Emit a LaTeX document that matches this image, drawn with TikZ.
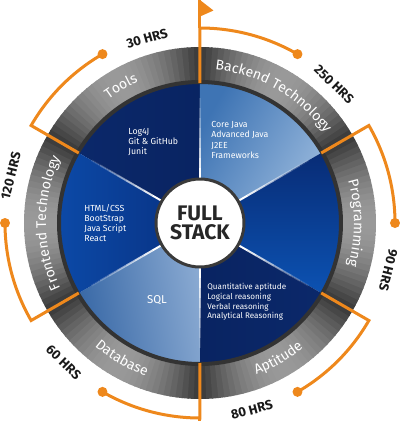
\documentclass[tikz,border=0pt]{standalone}
\usepackage{fontspec}
\setmainfont{Fira Sans}
\newfontfamily\ringfont{Fira Sans}
\usetikzlibrary{decorations.text}
\definecolor{hrsorange}{RGB}{238,136,28}
\definecolor{navyA}{RGB}{11,40,106}
\definecolor{navyB}{RGB}{9,36,98}
\definecolor{steelA}{RGB}{62,116,180}
\definecolor{steelB}{RGB}{152,184,220}
\definecolor{royalA}{RGB}{12,82,178}
\definecolor{royalB}{RGB}{8,44,118}
\definecolor{dbA}{RGB}{56,104,166}
\definecolor{dbB}{RGB}{138,170,210}
\definecolor{frontA}{RGB}{12,74,168}
\definecolor{frontB}{RGB}{8,48,128}
\definecolor{hubline}{RGB}{58,58,58}
\newcommand\rIn{2.8}
\newcommand\rOut{3.52}
\newcommand\rBr{3.9}
\begin{document}
\begin{tikzpicture}[
    sectortext/.style={text=white, font=\fontsize{5}{5.8}\selectfont, align=left, inner sep=0pt},
    hrs/.style={text=black!90, font=\fontsize{7.5}{7.5}\selectfont\bfseries, inner sep=0pt},
    bracket/.style={hrsorange, line width=0.06cm},
    ringlabel/.style={decorate, decoration={text along path, text align=center, text color=white, text={|\ringfont\fontsize{8}{8}\selectfont|#1}}}
]
    \useasboundingbox (-4,-3.96) rectangle (4,4.46);
    \shade[left color=navyA, right color=navyB] (0,0) -- (90:\rIn) arc[start angle=90, end angle=150, radius=\rIn] -- cycle;
    \shade[left color=steelA, right color=steelB, shading angle=60] (0,0) -- (30:\rIn) arc[start angle=30, end angle=90, radius=\rIn] -- cycle;
    \shade[top color=royalB, bottom color=royalA] (0,0) -- (-30:\rIn) arc[start angle=-30, end angle=30, radius=\rIn] -- cycle;
    \shade[left color=navyB, right color=navyA] (0,0) -- (270:\rIn) arc[start angle=270, end angle=330, radius=\rIn] -- cycle;
    \shade[left color=dbA, right color=dbB, shading angle=100] (0,0) -- (210:\rIn) arc[start angle=210, end angle=270, radius=\rIn] -- cycle;
    \shade[left color=frontA, right color=frontB] (0,0) -- (150:\rIn) arc[start angle=150, end angle=210, radius=\rIn] -- cycle;
    \foreach \s in {-30,30,...,270} {
        \foreach \k in {0,...,29} {
            \pgfmathsetmacro\lev{22+38*sin(6*(\k+0.5))}
            \fill[white!\lev!black] (\s+2*\k:\rIn) arc[start angle=\s+2*\k, end angle=\s+2*\k+2.4, radius=\rIn]
                -- (\s+2*\k+2.4:\rOut) arc[start angle=\s+2*\k+2.4, end angle=\s+2*\k, radius=\rOut] -- cycle;
        }
    }
    \draw[black!80, line width=0.08cm] (0,0) circle (\rIn+0.02);
    \foreach \a in {30,90,...,330} {
        \foreach \j in {0,...,7} {
            \pgfmathsetmacro\op{1-\j/8}
            \draw[white, line width=1.1pt, opacity=\op] (\a:0.9+\j*0.2) -- (\a:1.1+\j*0.2);
        }
    }
    \node[circle, draw=hubline, line width=0.06cm, fill=white, minimum size=1.76cm, inner sep=0pt,
        font=\fontsize{12}{12}\selectfont\bfseries, text=black!85, align=center] (hub) at (0,0) {FULL\\[-1pt]STACK};
    \node[sectortext, anchor=west] (tools) at (-1.44,1.62) {Log4J\\Git \& GitHub\\Junit};
    \node[sectortext, anchor=west] (backend) at (0.22,1.66) {Core Java\\Advanced Java\\J2EE\\Frameworks};
    \node[sectortext, anchor=west] (frontend) at (-2.32,0) {HTML/CSS\\BootStrap\\Java Script\\React};
    \node[sectortext, font=\fontsize{6.5}{6.5}\selectfont] (sql) at (-0.86,-1.54) {SQL};
    \node[sectortext, anchor=west, font=\fontsize{4.6}{5.5}\selectfont] (aptitude) at (0.14,-1.58)
        {Quantitative aptitude\\Logical reasoning\\Verbal reasoning\\Analytical Reasoning};
    \path[ringlabel=Tools] (150:3.08) arc[start angle=150, end angle=90, radius=3.08];
    \path[ringlabel=Backend Technology] (90:3.08) arc[start angle=90, end angle=30, radius=3.08];
    \path[ringlabel=Programming] (30:3.08) arc[start angle=30, end angle=-30, radius=3.08];
    \path[ringlabel=Aptitude] (270:3.24) arc[start angle=270, end angle=330, radius=3.24];
    \path[ringlabel=Database] (210:3.24) arc[start angle=210, end angle=270, radius=3.24];
    \path[ringlabel=Frontend Technology] (210:3.08) arc[start angle=210, end angle=150, radius=3.08];
    \foreach \b in {90,30,-30,270,210,150} {
        \draw[bracket] (\b:\rIn) -- (\b:\rBr) arc[start angle=\b, end angle=\b-30, radius=\rBr];
        \fill[hrsorange] (\b-30:\rBr) circle (0.1);
    }
    \coordinate (flagtop) at (0,4.46);
    \coordinate (floor) at (0,-3.96);
    \draw[bracket] (90:\rBr) -- (flagtop);
    \draw[bracket] (270:\rBr) -- (floor);
    \fill[hrsorange] (0,4.46) -- (0.27,4.25) -- (0,4.13) -- cycle;
    \node[hrs, rotate=16] (hrstools) at (106:3.84) {30 HRS};
    \node[hrs, rotate=-44] (hrsbackend) at (46:3.86) {250 HRS};
    \node[hrs, rotate=-104] (hrsprog) at (-14:3.88) {90 HRS};
    \node[hrs, rotate=15] (hrsapt) at (-74.5:3.88) {80 HRS};
    \node[hrs, rotate=-44] (hrsdb) at (225.6:3.9) {60 HRS};
    \node[hrs, rotate=76] (hrsfront) at (166:3.9) {120 HRS};
\end{tikzpicture}
\end{document}
